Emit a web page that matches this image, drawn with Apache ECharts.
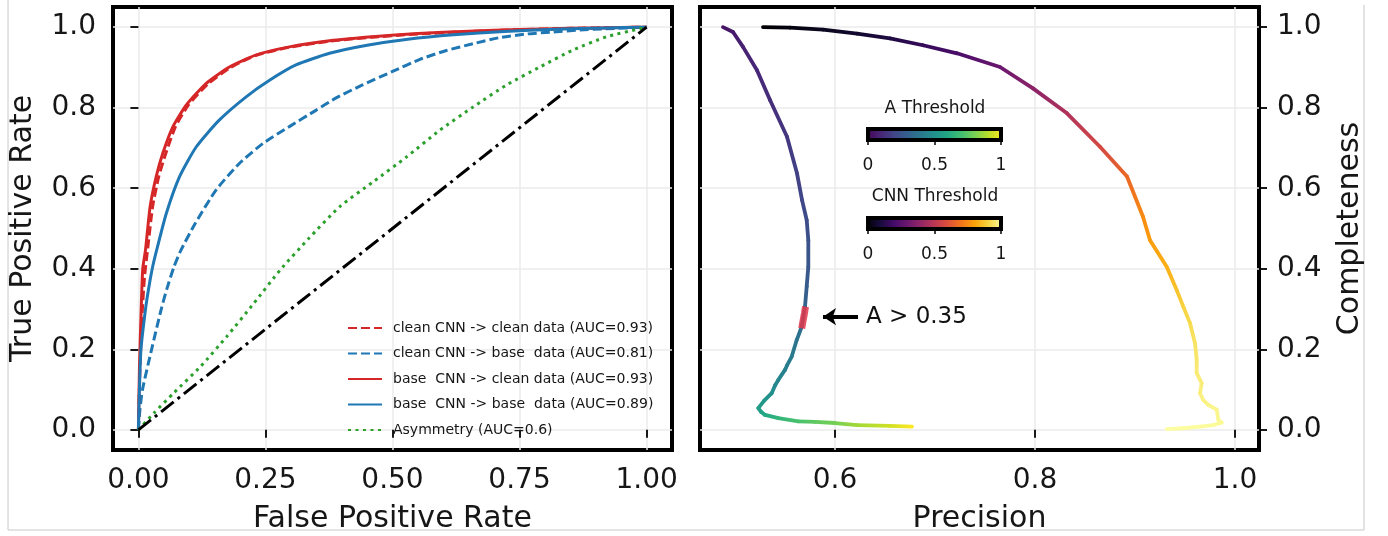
<!DOCTYPE html>
<html><head><meta charset="utf-8">
<script src="https://cdn.jsdelivr.net/npm/echarts@6/dist/echarts.min.js"></script>
<style>html,body{margin:0;padding:0;background:#fff}#c{width:1388px;height:536px}</style>
</head><body><div id="c"></div>
<script>
// ---------- data ----------
const rocNames = [
  'clean CNN -> clean data (AUC=0.93)',
  'clean CNN -> base  data (AUC=0.81)',
  'base  CNN -> clean data (AUC=0.93)',
  'base  CNN -> base  data (AUC=0.89)',
  'Asymmetry (AUC=0.6)'
];
const rocTicksX = [0, 0.25, 0.5, 0.75, 1.0];
const rocTicksY = [0, 0.2, 0.4, 0.6, 0.8, 1.0];
const prTicksX = [0.6, 0.8, 1.0];
const cbTicks = [0, 0.5, 1];
const cbTitles = ['A Threshold', 'CNN Threshold'];

const cleanCleanFpr = [0, 0.003, 0.007, 0.012, 0.018, 0.028, 0.040, 0.054, 0.073, 0.098, 0.136, 0.180, 0.232, 0.297, 0.376, 0.46, 0.55, 0.65, 0.75, 0.85, 0.95, 1.0];
const cleanCleanTpr = [0, 0.15, 0.28, 0.38, 0.447, 0.554, 0.629, 0.687, 0.753, 0.806, 0.858, 0.899, 0.930, 0.950, 0.965, 0.975, 0.983, 0.989, 0.994, 0.997, 0.999, 1.0];

const cleanBaseFpr = [0, 0.003, 0.008, 0.026, 0.045, 0.056, 0.070, 0.084, 0.112, 0.153, 0.199, 0.245, 0.297, 0.350, 0.39, 0.44, 0.50, 0.554, 0.606, 0.659, 0.711, 0.764, 0.816, 0.868, 0.921, 1.0];
const cleanBaseTpr = [0, 0.05, 0.1, 0.2, 0.3, 0.35, 0.405, 0.447, 0.513, 0.596, 0.662, 0.711, 0.753, 0.794, 0.825, 0.856, 0.89, 0.92, 0.942, 0.959, 0.974, 0.983, 0.988, 0.993, 0.996, 1.0];

const baseCleanFpr = [0, 0.002, 0.005, 0.0085, 0.014, 0.023, 0.035, 0.048, 0.068, 0.094, 0.133, 0.179, 0.232, 0.297, 0.376, 0.46, 0.55, 0.65, 0.75, 0.85, 0.95, 1.0];
const baseCleanTpr = [0, 0.15, 0.28, 0.40, 0.447, 0.554, 0.629, 0.687, 0.753, 0.806, 0.860, 0.901, 0.931, 0.951, 0.966, 0.976, 0.984, 0.990, 0.994, 0.997, 0.999, 1.0];

const baseBaseFpr = [0, 0.002, 0.005, 0.014, 0.020, 0.028, 0.036, 0.055, 0.081, 0.114, 0.159, 0.212, 0.258, 0.310, 0.376, 0.45, 0.53, 0.62, 0.72, 0.82, 0.92, 1.0];
const baseBaseTpr = [0, 0.1, 0.2, 0.3, 0.35, 0.405, 0.447, 0.538, 0.629, 0.703, 0.769, 0.827, 0.868, 0.906, 0.935, 0.955, 0.970, 0.981, 0.989, 0.995, 0.998, 1.0];

const asymFpr = [0, 0.030, 0.069, 0.122, 0.174, 0.227, 0.279, 0.335, 0.396, 0.462, 0.528, 0.593, 0.659, 0.724, 0.790, 0.855, 0.921, 0.986, 1.0];
const asymTpr = [0, 0.041, 0.091, 0.157, 0.232, 0.314, 0.397, 0.475, 0.554, 0.616, 0.678, 0.744, 0.802, 0.856, 0.901, 0.943, 0.976, 0.996, 1.0];

const chanceFpr = [0, 1];
const chanceTpr = [0, 1];

// precision / completeness curves, coloured by threshold
const aPrec = [0.488, 0.498, 0.508, 0.522, 0.535, 0.552, 0.562, 0.567, 0.5717, 0.5733, 0.5733, 0.5717, 0.570, 0.5667, 0.5617, 0.5567, 0.552, 0.550, 0.5433, 0.540, 0.5367, 0.529, 0.5233, 0.526, 0.530, 0.5433, 0.5633, 0.580, 0.600, 0.622, 0.655, 0.677];
const aComp = [1.0, 0.988, 0.951, 0.893, 0.819, 0.728, 0.637, 0.571, 0.521, 0.471, 0.405, 0.356, 0.306, 0.256, 0.223, 0.182, 0.160, 0.149, 0.124, 0.110, 0.091, 0.072, 0.054, 0.045, 0.037, 0.029, 0.021, 0.020, 0.017, 0.012, 0.010, 0.008];
const aThr  = [0.05, 0.07, 0.09, 0.11, 0.13, 0.16, 0.19, 0.21, 0.23, 0.25, 0.27, 0.29, 0.32, 0.36, 0.38, 0.41, 0.42, 0.43, 0.45, 0.47, 0.49, 0.52, 0.55, 0.57, 0.60, 0.65, 0.71, 0.75, 0.79, 0.86, 0.93, 1.0];

const cnnPrec = [0.528, 0.555, 0.588, 0.622, 0.655, 0.688, 0.722, 0.765, 0.798, 0.832, 0.865, 0.892, 0.908, 0.915, 0.9317, 0.9417, 0.9483, 0.955, 0.960, 0.9617, 0.9617, 0.9667, 0.965, 0.9683, 0.9733, 0.9817, 0.9833, 0.9867, 0.9783, 0.965, 0.9483, 0.9317];
const cnnComp = [1.0, 0.999, 0.994, 0.984, 0.972, 0.955, 0.935, 0.901, 0.848, 0.786, 0.703, 0.629, 0.529, 0.471, 0.405, 0.347, 0.306, 0.265, 0.215, 0.174, 0.141, 0.116, 0.091, 0.074, 0.062, 0.050, 0.025, 0.018, 0.012, 0.008, 0.004, 0.002];
const cnnThr  = [0.0, 0.02, 0.05, 0.08, 0.12, 0.17, 0.22, 0.30, 0.38, 0.47, 0.57, 0.66, 0.74, 0.78, 0.82, 0.86, 0.89, 0.91, 0.93, 0.94, 0.95, 0.955, 0.96, 0.965, 0.97, 0.975, 0.98, 0.985, 0.99, 0.993, 0.996, 1.0];

const hlPrec = [0.5705, 0.5695, 0.568, 0.5667];
const hlComp = [0.306, 0.290, 0.270, 0.252];

const arrowPrec = [0.623, 0.588];
const arrowComp = [0.281, 0.281];
const annotText = 'A > 0.35';
const annotPos = [0.631, 0.281];

// ---------- styles ----------
const FONT = 'DejaVu Sans';
const TXT = '#161616';
const GRIDC = '#ebebeb';
const RED = '#d62728', BLUE = '#1f77b4', GREEN = '#2ca02c';
const VIRIDIS = ['#440154','#482475','#414487','#355f8d','#2a788e','#21918c','#22a884','#44bf70','#7ad151','#bddf26','#fde725'];
const INFERNO = ['#000004','#160b39','#420a68','#6a176e','#932667','#bc3754','#dd513a','#f37819','#fca50a','#f6d746','#fcffa4'];

function hex2rgb(h){return [parseInt(h.slice(1,3),16),parseInt(h.slice(3,5),16),parseInt(h.slice(5,7),16)];}
function cmap(stops){
  const rgb = stops.map(hex2rgb);
  return function(t){
    t = Math.max(0, Math.min(1, t));
    const f = t*(rgb.length-1), i = Math.min(rgb.length-2, Math.floor(f)), u = f - i;
    const c = rgb[i].map((v,k)=>Math.round(v + (rgb[i+1][k]-v)*u));
    return 'rgb(' + c.join(',') + ')';
  };
}
const viridis = cmap(VIRIDIS), inferno = cmap(INFERNO);
function stopsOf(stops){return stops.map((c,i)=>({offset:i/(stops.length-1), color:c}));}

const zip = (a,b)=>a.map((v,i)=>[v,b[i]]);

function gradSeries(xs, ys, ts, cm, width){
  const data = [];
  for (let i=0;i<xs.length-1;i++) data.push([xs[i], ys[i], xs[i+1], ys[i+1], ts[i], ts[i+1]]);
  return {
    type:'custom', xAxisIndex:1, yAxisIndex:1, z:3, silent:true,
    data, encode:{x:[0,2], y:[1,3]},
    renderItem(params, api){
      const p1 = api.coord([api.value(0), api.value(1)]);
      const p2 = api.coord([api.value(2), api.value(3)]);
      const c1 = cm(api.value(4)), c2 = cm(api.value(5));
      const same = Math.abs(p1[0]-p2[0]) + Math.abs(p1[1]-p2[1]) < 0.01;
      return {type:'line', shape:{x1:p1[0],y1:p1[1],x2:p2[0],y2:p2[1]},
        style:{stroke: same ? c1 : new echarts.graphic.LinearGradient(p1[0],p1[1],p2[0],p2[1],[{offset:0,color:c1},{offset:1,color:c2}], true),
               lineWidth: width, lineCap:'round'}};
    }
  };
}

function tickAxis(extra){
  return Object.assign({
    type:'value', axisLine:{show:false}, splitLine:{show:false},
    nameLocation:'middle', nameTextStyle:{fontFamily:FONT, fontSize:30, color:TXT}
  }, extra);
}
const tick = vals => ({show:true, inside:false, customValues:vals, length:8, lineStyle:{color:'#000', width:1.8}});
const lab = (vals, fmt, margin) => ({customValues:vals, formatter:fmt, fontFamily:FONT, fontSize:28, color:TXT, margin});

function gridLines(xi, yi, xt, yt){
  return {
    type:'line', xAxisIndex:xi, yAxisIndex:yi, data:[], z:0, silent:true,
    markLine:{silent:true, z:0, symbol:['none','none'], animation:false, label:{show:false},
      lineStyle:{color:GRIDC, width:1.5, type:'solid'},
      emphasis:{disabled:true},
      data: xt.map(v=>({xAxis:v})).concat(yt.map(v=>({yAxis:v})))}
  };
}

const chart = echarts.init(document.getElementById('c'), null, {renderer:'canvas'});

const rocLine = (name, fpr, tpr, color, type, z) => ({
  name, type:'line', xAxisIndex:0, yAxisIndex:0, data: zip(fpr,tpr),
  symbol:'none', showSymbol:false, smooth:0.2, z,
  lineStyle:{color, width:3, type}, itemStyle:{color}
});

const cbGrid = (top, stops) => ({left:868, top, width:133, height:11, show:true, borderColor:'#000', borderWidth:4,
  outerBoundsMode:'none', containLabel:false,
  backgroundColor:{type:'linear', x:0, y:0, x2:1, y2:0, colorStops:stopsOf(stops)}});
const cbAxis = gi => ({gridIndex:gi, type:'value', min:0, max:1, axisLine:{show:false}, splitLine:{show:false},
  axisTick:{show:true, customValues:cbTicks, length:5, lineStyle:{color:'#000', width:1.5}},
  axisLabel:{customValues:cbTicks, formatter:v=>String(v), fontFamily:FONT, fontSize:17, color:TXT, margin:17}});

const option = {
  animation:false,
  backgroundColor:'#fff',
  grid:[
    {left:113, top:7, width:559, height:443, show:true, borderColor:'#000', borderWidth:4, backgroundColor:'transparent', outerBoundsMode:'none', containLabel:false},
    {left:700, top:7, width:559, height:443, show:true, borderColor:'#000', borderWidth:4, backgroundColor:'transparent', outerBoundsMode:'none', containLabel:false},
    cbGrid(129, VIRIDIS),
    cbGrid(218, INFERNO)
  ],
  xAxis:[
    tickAxis({gridIndex:0, min:-0.05, max:1.05, name:'False Positive Rate', nameGap:54,
      axisTick:tick(rocTicksX), axisLabel:lab(rocTicksX, v=>v.toFixed(2), 17)}),
    tickAxis({gridIndex:1, min:0.465, max:1.024, name:'Precision', nameGap:54,
      axisTick:tick(prTicksX), axisLabel:lab(prTicksX, v=>v.toFixed(1), 17)}),
    cbAxis(2), cbAxis(3)
  ],
  yAxis:[
    tickAxis({gridIndex:0, min:-0.05, max:1.05, name:'True Positive Rate', nameGap:75, nameRotate:90,
      axisTick:tick(rocTicksY), axisLabel:lab(rocTicksY, v=>v.toFixed(1), 17)}),
    tickAxis({gridIndex:1, position:'right', min:-0.05, max:1.05, name:'Completeness', nameGap:76, nameRotate:90,
      axisTick:tick(rocTicksY), axisLabel:lab(rocTicksY, v=>v.toFixed(1), 18)}),
    {gridIndex:2, type:'value', min:0, max:1, show:false},
    {gridIndex:3, type:'value', min:0, max:1, show:false}
  ],
  legend:{
    data: rocNames, orient:'vertical', left:342, top:316, itemWidth:34, itemHeight:14, itemGap:11.5,
    selectedMode:false, backgroundColor:'transparent',
    itemStyle:{opacity:0},
    textStyle:{fontFamily:FONT, fontSize:14, color:TXT, lineHeight:14, padding:[0,0,0,6]}
  },
  graphic:[
    {type:'text', style:{text:cbTitles[0], x:935, y:109, align:'center', verticalAlign:'middle', font:'17px "DejaVu Sans"', fill:TXT}, z:10},
    {type:'text', style:{text:cbTitles[1], x:935, y:197, align:'center', verticalAlign:'middle', font:'17px "DejaVu Sans"', fill:TXT}, z:10},
    {type:'polyline', shape:{points:[[8,0],[8,530],[1364,530],[1364,5]]}, style:{stroke:'#c8c8c8', lineWidth:1, fill:null}, silent:true, z:-1}
  ],
  series:[
    gridLines(0,0,rocTicksX,rocTicksY),
    gridLines(1,1,prTicksX,rocTicksY),
    rocLine(rocNames[0], cleanCleanFpr, cleanCleanTpr, RED, [9,4], 2),
    rocLine(rocNames[1], cleanBaseFpr, cleanBaseTpr, BLUE, [9,4], 2),
    rocLine(rocNames[2], baseCleanFpr, baseCleanTpr, RED, 'solid', 2),
    rocLine(rocNames[3], baseBaseFpr, baseBaseTpr, BLUE, 'solid', 2),
    rocLine(rocNames[4], asymFpr, asymTpr, GREEN, [3,4.5], 2),
    {type:'line', xAxisIndex:0, yAxisIndex:0, data:zip(chanceFpr, chanceTpr), symbol:'none', z:2,
      lineStyle:{color:'#000', width:3, type:[16,5,3,5]}},
    gradSeries(aPrec, aComp, aThr, viridis, 3.8),
    gradSeries(cnnPrec, cnnComp, cnnThr, inferno, 3.8),
    {type:'line', xAxisIndex:1, yAxisIndex:1, data:zip(hlPrec, hlComp), symbol:'none', z:4,
      lineStyle:{color:'rgba(226,55,75,0.85)', width:7, cap:'butt'}},
    {type:'lines', coordinateSystem:'cartesian2d', xAxisIndex:1, yAxisIndex:1, z:4,
      symbol:['none','arrow'], symbolSize:13,
      lineStyle:{color:'#000', width:4, opacity:1},
      data:[{coords: zip(arrowPrec, arrowComp)}]},
    {type:'scatter', xAxisIndex:1, yAxisIndex:1, symbolSize:0, z:4, data:[annotPos],
      itemStyle:{opacity:1},
      label:{show:true, position:'right', distance:0, formatter:annotText, fontFamily:FONT, fontSize:23, color:'#111', opacity:1}}
  ]
};
chart.setOption(option);
</script></body></html>
